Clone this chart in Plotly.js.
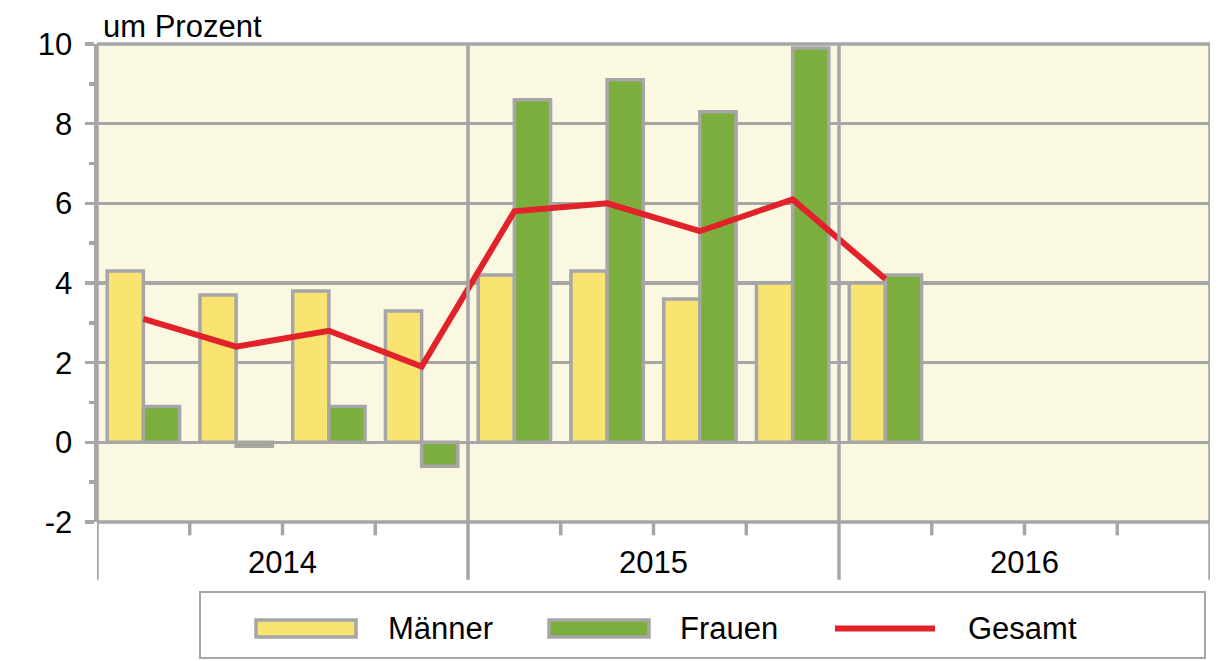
<!DOCTYPE html>
<html>
<head>
<meta charset="utf-8">
<script src="https://cdn.plot.ly/plotly-3.0.1.min.js"></script>
<style>html,body{margin:0;padding:0;background:#fff;}</style>
</head>
<body>
<div id="chart" style="width:1225px;height:661px;"></div>
<script>
// ---- data ----
const quarters = ['I/2014','II/2014','III/2014','IV/2014','I/2015','II/2015','III/2015','IV/2015','I/2016','II/2016','III/2016','IV/2016'];
const years = ['2014','2015','2016'];
const maenner = [4.3, 3.7, 3.8, 3.3, 4.2, 4.3, 3.6, 4.0, 4.0, null, null, null];
const frauen  = [0.9, -0.1, 0.9, -0.6, 8.6, 9.1, 8.3, 9.9, 4.2, null, null, null];
const gesamt  = [3.1, 2.4, 2.8, 1.9, 5.8, 6.0, 5.3, 6.1, 4.1, null, null, null];
const seriesNames = ['Männer', 'Frauen', 'Gesamt'];
const yTickVals = [-2, 0, 2, 4, 6, 8, 10];
const yTickText = ['-2', '0', '2', '4', '6', '8', '10'];
const yTitle = 'um Prozent';

// ---- styles ----
const GRID = '#A6A6A6';
const YELLOW = '#F9E472';
const GREEN = '#7CAE3E';
const RED = '#E2222B';
const FONT = 'Liberation Sans, Arial, sans-serif';
const FS = 31;
const GW = 3.5;

const traces = [
  {type:'bar', name:seriesNames[0], x:quarters, y:maenner,
   marker:{color:YELLOW, line:{color:GRID, width:GW}}, showlegend:false, hoverinfo:'y'},
  {type:'bar', name:seriesNames[1], x:quarters, y:frauen,
   marker:{color:GREEN, line:{color:GRID, width:GW}}, showlegend:false, hoverinfo:'y'},
  {type:'scatter', mode:'lines', name:seriesNames[2], x:quarters, y:gesamt,
   line:{color:RED, width:6}, showlegend:false, connectgaps:false}
];

const nQ = quarters.length;
const shapes = [];
const lineStyle = {color:GRID, width:GW};
// plot border (top, bottom)
shapes.push({type:'line', xref:'paper', yref:'paper', x0:0, x1:1, y0:1, y1:1, line:lineStyle, layer:'above'});
shapes.push({type:'line', xref:'paper', yref:'paper', x0:0, x1:1, y0:0, y1:0, line:lineStyle, layer:'above'});
// year separators and outer verticals, extending below the axis
for (let k = 0; k <= years.length; k++) {
  const xv = -0.5 + k * 4;
  shapes.push({type:'line', xref:'x', yref:'paper', x0:xv, x1:xv, y0:1, y1:-0.121, line:lineStyle, layer:'above'});
}
// quarter ticks
for (let i = 1; i < nQ; i++) {
  if (i % 4 === 0) continue;
  const xv = i - 0.5;
  shapes.push({type:'line', xref:'x', yref:'paper', x0:xv, x1:xv, y0:0, y1:-0.028, line:lineStyle, layer:'above'});
}

// legend (manual, to match wide swatches)
const toPX = px => (px - 97) / 1113;
const toPY = py => (522 - py) / 478;
shapes.push({type:'rect', xref:'paper', yref:'paper', x0:toPX(200), x1:toPX(1205), y0:toPY(658), y1:toPY(592),
  line:{color:GRID, width:2}, fillcolor:'white', layer:'above'});
shapes.push({type:'rect', xref:'paper', yref:'paper', x0:toPX(256), x1:toPX(356), y0:toPY(637), y1:toPY(620),
  line:{color:GRID, width:GW}, fillcolor:YELLOW, layer:'above'});
shapes.push({type:'rect', xref:'paper', yref:'paper', x0:toPX(549), x1:toPX(649), y0:toPY(637), y1:toPY(620),
  line:{color:GRID, width:GW}, fillcolor:GREEN, layer:'above'});
shapes.push({type:'line', xref:'paper', yref:'paper', x0:toPX(835), x1:toPX(935), y0:toPY(628.5), y1:toPY(628.5),
  line:{color:RED, width:6}, layer:'above'});

const annotations = [];
years.forEach((yr, k) => {
  annotations.push({text:yr, xref:'x', yref:'paper', x:1.5 + 4*k, y:toPY(562), showarrow:false,
    xanchor:'center', yanchor:'middle', font:{family:FONT, size:FS, color:'#000'}});
});
annotations.push({text:yTitle, xref:'paper', yref:'paper', x:toPX(101), y:toPY(27), showarrow:false,
  xanchor:'left', yanchor:'middle', font:{family:FONT, size:FS, color:'#000'}});
const legX = [386, 678, 966];
seriesNames.forEach((nm, k) => {
  annotations.push({text:nm, xref:'paper', yref:'paper', x:toPX(legX[k]), y:toPY(628), showarrow:false,
    xanchor:'left', yanchor:'middle', font:{family:FONT, size:FS, color:'#000'}});
});

const layout = {
  width:1225, height:661,
  margin:{l:97, r:15, t:44, b:139, pad:0},
  paper_bgcolor:'#FFFFFF', plot_bgcolor:'#FBF8E2',
  barmode:'group', bargap:0.22, bargroupgap:0,
  showlegend:false,
  font:{family:FONT, size:FS, color:'#000'},
  xaxis:{type:'category', categoryorder:'array', categoryarray:quarters, range:[-0.5, nQ - 0.5],
    showticklabels:false, ticks:'', showgrid:false, zeroline:false, showline:false, fixedrange:true},
  yaxis:{range:[-2, 10], tickmode:'array', tickvals:yTickVals, ticktext:yTickText,
    showgrid:true, gridcolor:GRID, gridwidth:GW,
    zeroline:true, zerolinecolor:GRID, zerolinewidth:GW,
    showline:true, linecolor:GRID, linewidth:GW, mirror:false,
    ticks:'outside', ticklen:9, tickwidth:GW, tickcolor:GRID, ticklabelstandoff:6,
    tickfont:{family:FONT, size:FS, color:'#000'},
    minor:{tickmode:'linear', dtick:1, tick0:1, ticks:'outside', ticklen:5, tickwidth:GW, tickcolor:GRID, showgrid:false},
    fixedrange:true},
  shapes:shapes,
  annotations:annotations
};

Plotly.newPlot('chart', traces, layout, {displayModeBar:false, staticPlot:true});
</script>
</body>
</html>
